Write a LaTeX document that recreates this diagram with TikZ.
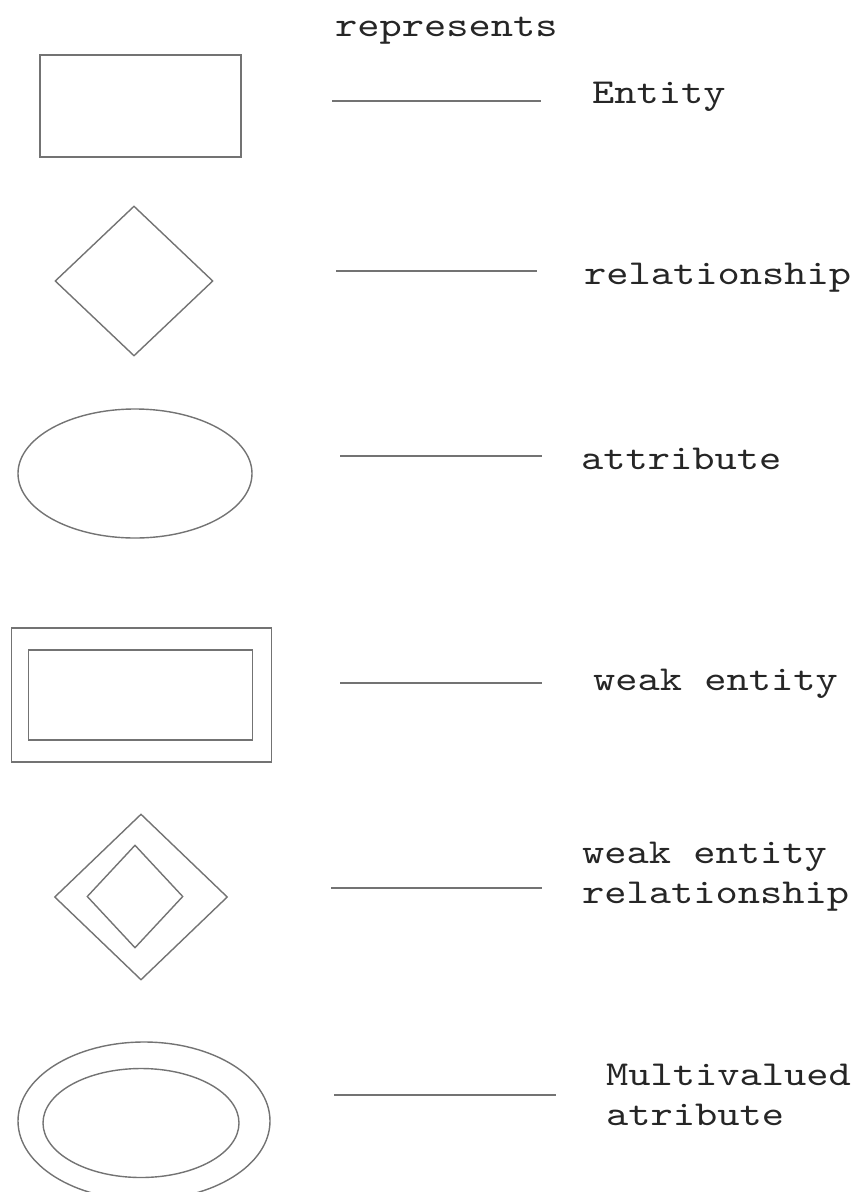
\documentclass[tikz,border=0pt]{standalone}
\usepackage{fontspec}
\newfontfamily\lblfont{lmmono10-regular}[Extension=.otf, FakeStretch=1.21]
\usepackage{tikz}
\usetikzlibrary{shapes.geometric}

\begin{document}
\begin{tikzpicture}[x=1pt, y=-1pt,
    sym/.style={draw=black!55, line width=1.4pt, inner sep=0pt},
    bar/.style={draw=black!55, line width=1.4pt},
    lbl/.style={anchor=base west, inner sep=0pt, text=black!85,
                font=\lblfont\fontsize{35}{40}\selectfont}]
            \useasboundingbox (0,0) rectangle (856,1192);

            \node[lbl] (head) at (335,36) {represents};

            % entity
            \node[sym, rectangle, minimum width=201, minimum height=102] (ent) at (140.5,106) {};
            \coordinate (ent1) at (332,101);
            \coordinate (ent2) at (541,101);
            \draw[bar] (ent1) -- (ent2);
            \node[lbl] (entlbl) at (592,103) {Entity};

            % relationship
            \node[sym, diamond, minimum width=158, minimum height=150] (rel) at (134,281) {};
            \coordinate (rel1) at (336,271);
            \coordinate (rel2) at (537,271);
            \draw[bar] (rel1) -- (rel2);
            \node[lbl] (rellbl) at (584,284) {relationship};

            % attribute
            \node[sym, ellipse, minimum width=234, minimum height=129] (att) at (135,473.5) {};
            \coordinate (att1) at (340,456);
            \coordinate (att2) at (542,456);
            \draw[bar] (att1) -- (att2);
            \node[lbl] (attlbl) at (581,469) {attribute};

            % weak entity
            \node[sym, rectangle, minimum width=260, minimum height=134] (went) at (141.5,695) {};
            \node[sym, rectangle, minimum width=224, minimum height=90] (wenti) at (140.5,695) {};
            \coordinate (went1) at (340,683);
            \coordinate (went2) at (542,683);
            \draw[bar] (went1) -- (went2);
            \node[lbl] (wentlbl) at (593,690) {weak entity};

            % weak entity relationship
            \node[sym, diamond, minimum width=173, minimum height=166] (wrel) at (141,897) {};
            \node[sym, diamond, minimum width=96, minimum height=103] (wreli) at (135,896.5) {};
            \coordinate (wrel1) at (331,888);
            \coordinate (wrel2) at (542,888);
            \draw[bar] (wrel1) -- (wrel2);
            \node[lbl, anchor=north west, align=left] (wrellbl) at (582,842) {weak entity\\relationship};

            % multivalued attribute
            \node[sym, ellipse, minimum width=252, minimum height=158] (matt) at (144,1121) {};
            \node[sym, ellipse, minimum width=196, minimum height=109] (matti) at (141,1123) {};
            \coordinate (matt1) at (334,1095);
            \coordinate (matt2) at (556,1095);
            \draw[bar] (matt1) -- (matt2);
            \node[lbl, anchor=north west, align=left] (mattlbl) at (606,1064) {Multivalued\\atribute};
        \end{tikzpicture}
\end{document}
